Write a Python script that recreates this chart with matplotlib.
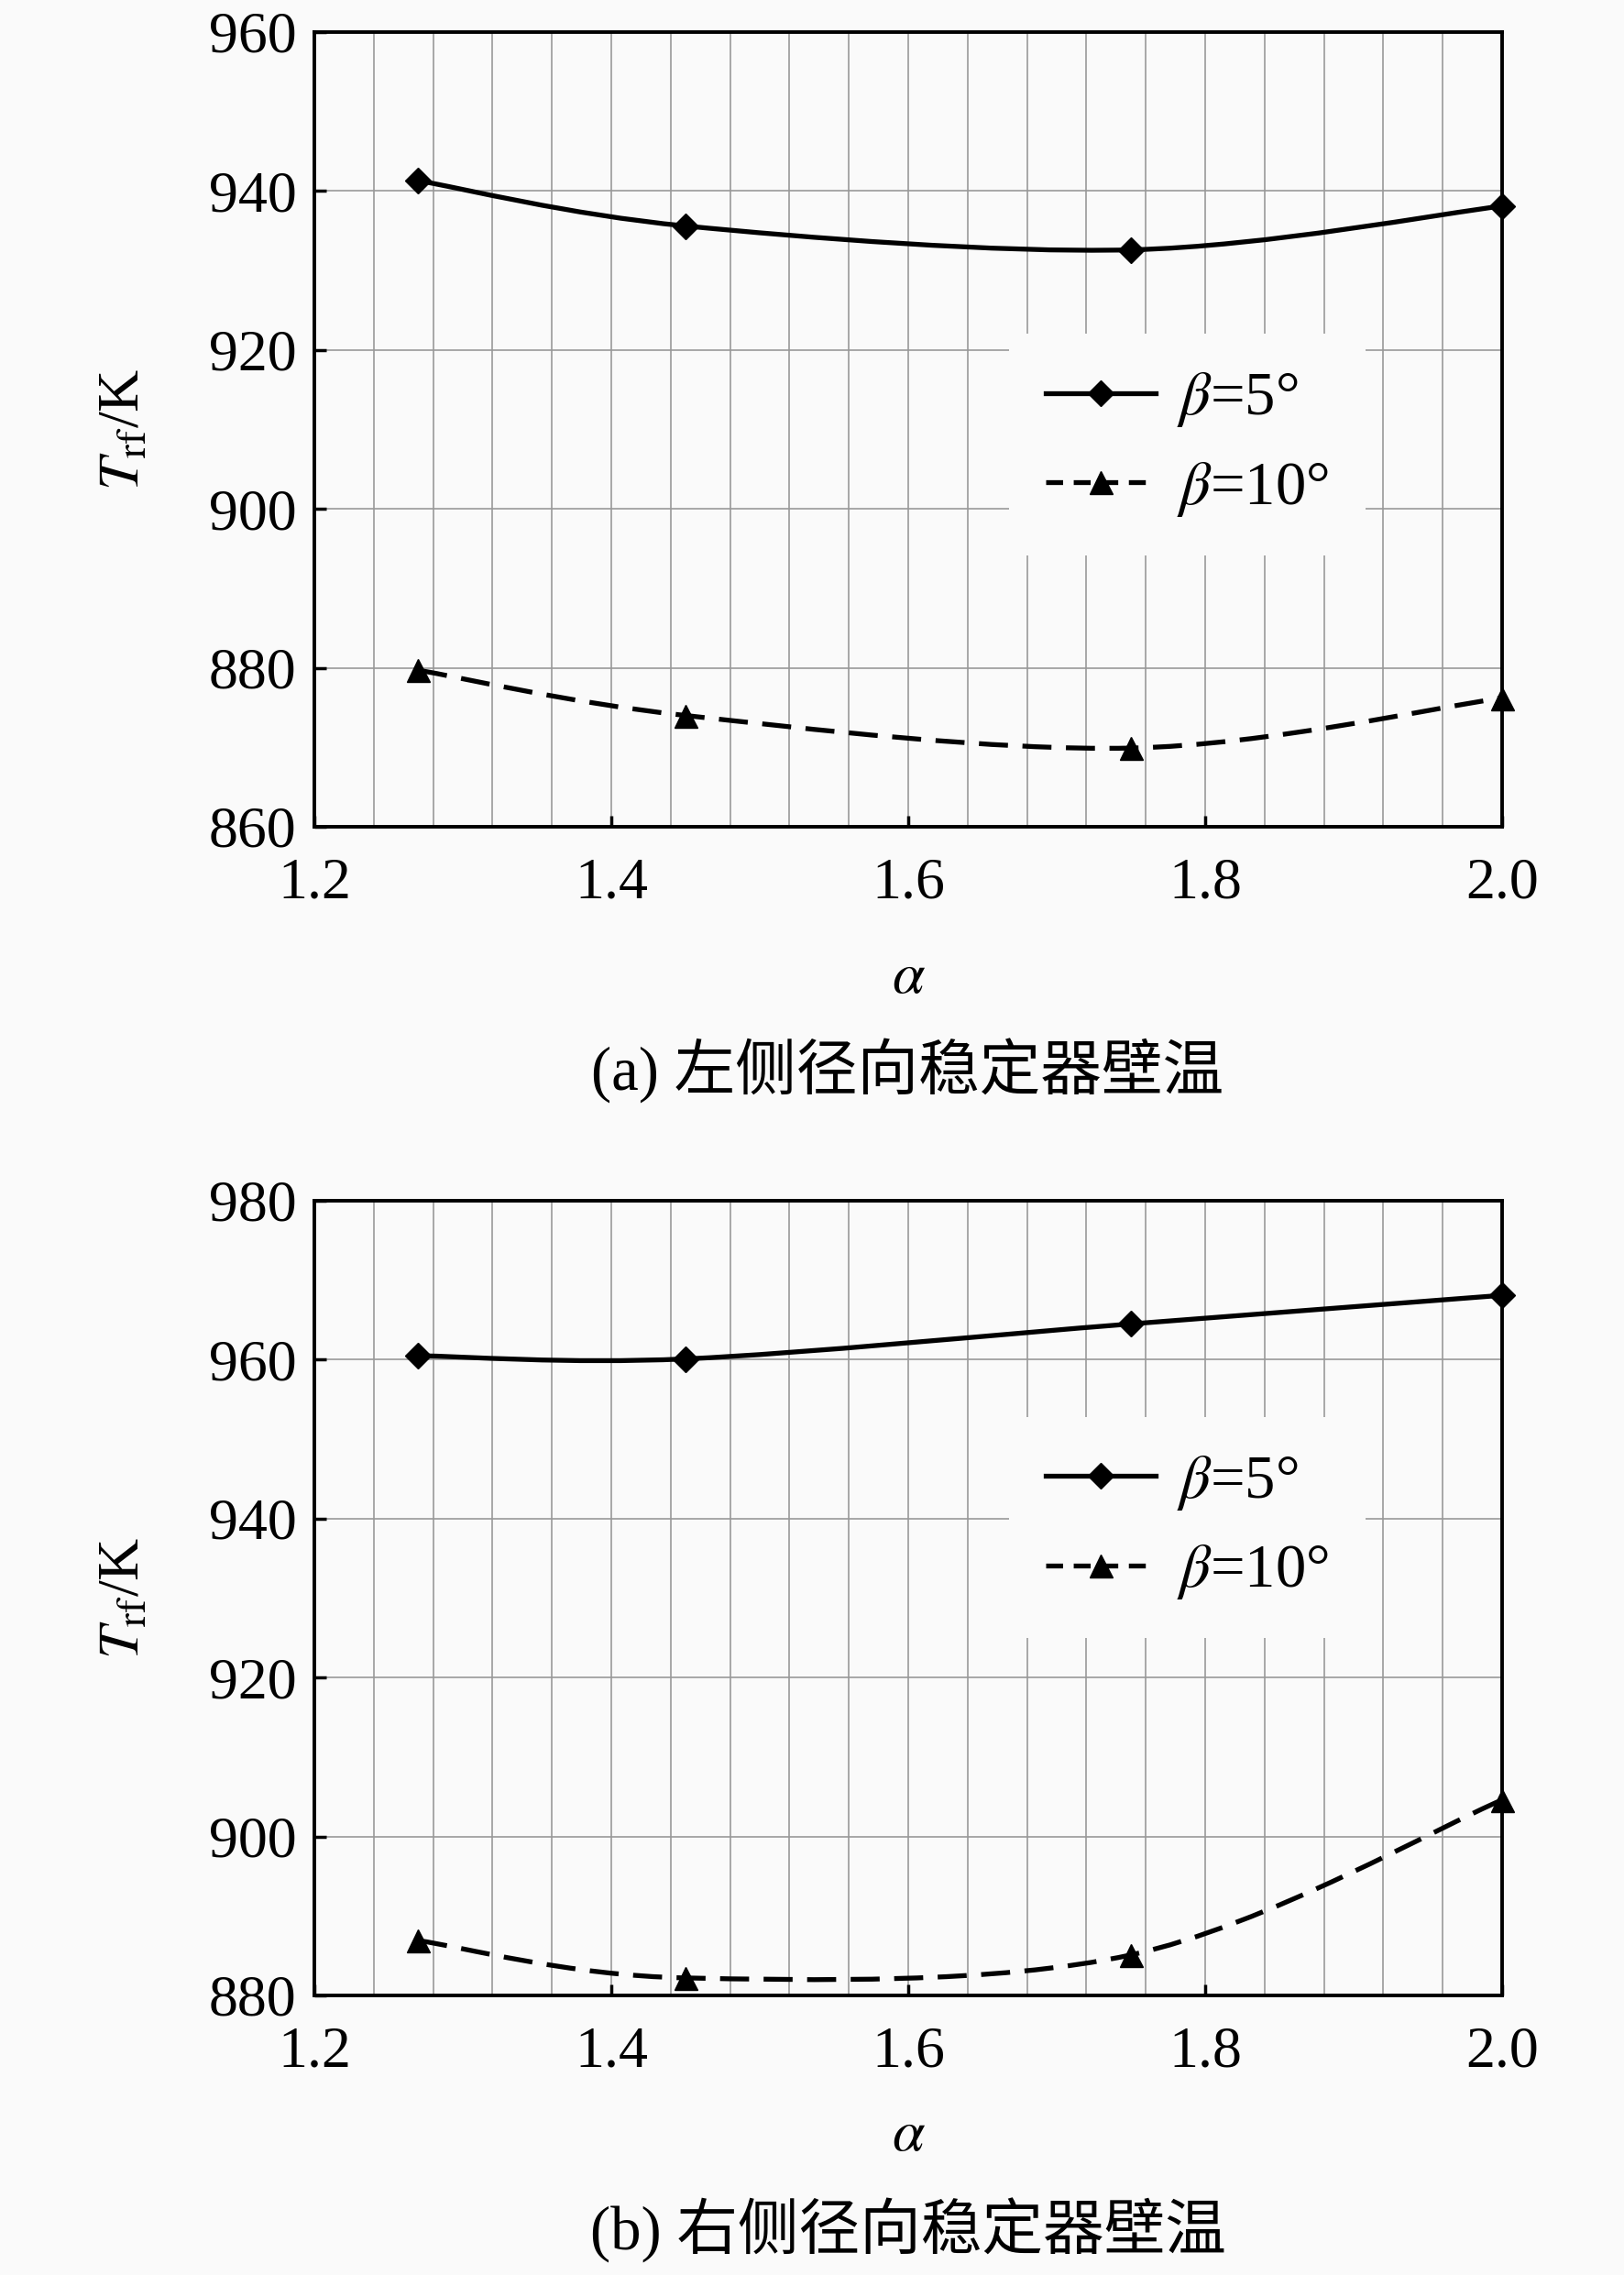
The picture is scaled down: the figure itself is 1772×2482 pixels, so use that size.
import numpy as np
import matplotlib
matplotlib.use('Agg')
import matplotlib.pyplot as plt
from matplotlib.path import Path
from matplotlib.patches import PathPatch
from matplotlib.lines import Line2D

plt.rcParams['font.family'] = ['Liberation Serif', 'Noto Sans CJK SC']
plt.rcParams['mathtext.fontset'] = 'stix'

# data
alpha = [1.27, 1.45, 1.75, 2.0]
left_b5 = [941.3, 935.6, 932.6, 938.1]
left_b10 = [879.7, 874.0, 869.9, 876.2]
right_b5 = [960.5, 960.1, 964.5, 968.1]
right_b10 = [886.9, 882.2, 885.1, 904.6]

x_ticks = [1.2, 1.4, 1.6, 1.8, 2.0]
x_tick_labels = ['1.2', '1.4', '1.6', '1.8', '2.0']
left_yticks = [860, 880, 900, 920, 940, 960]
right_yticks = [880, 900, 920, 940, 960, 980]
captions = ['(a) 左侧径向稳定器壁温', '(b) 右侧径向稳定器壁温']

BG = '#fafafa'
FS = 46
LW = 3.8
DASH = (0, (6.0, 3.0))


def smooth_path(xs, ys):
    # excel-like smoothed line: cubic bezier through the points
    p = np.column_stack([xs, ys])
    n = len(p)
    verts = [p[0]]
    codes = [Path.MOVETO]
    for i in range(n - 1):
        p0 = p[i - 1] if i > 0 else p[i]
        p3 = p[i + 2] if i + 2 < n else p[i + 1]
        c1 = p[i] + (p[i + 1] - p0) / 6.0
        c2 = p[i + 1] - (p3 - p[i]) / 6.0
        verts += [c1, c2, p[i + 1]]
        codes += [Path.CURVE4] * 3
    return Path(verts, codes)


def panel(ax, b5, b10, yticks, leg_pos, xlab_y):
    ax.set_facecolor(BG)
    ax.set_xlim(1.2, 2.0)
    ax.set_ylim(yticks[0], yticks[-1])
    ax.set_xticks(x_ticks)
    ax.set_xticklabels(x_tick_labels)
    ax.set_xticks(np.arange(1.2, 2.0001, 0.04), minor=True)
    ax.set_yticks(yticks)
    ax.grid(True, which='major', color='#999999', lw=1.2)
    ax.grid(True, which='minor', axis='x', color='#999999', lw=1.2)
    ax.tick_params(which='major', direction='in', length=9, width=2.5,
                   labelsize=FS, pad=24)
    ax.tick_params(which='minor', length=0)
    ax.tick_params(axis='y', pad=14)
    for s in ax.spines.values():
        s.set_linewidth(2.8)
        s.set_zorder(5)

    ax.add_patch(PathPatch(smooth_path(alpha, b5), fill=False, color='k',
                           lw=LW, zorder=3))
    ax.add_patch(PathPatch(smooth_path(alpha, b10), fill=False, color='k',
                           lw=LW, linestyle=DASH, zorder=3))
    ax.plot(alpha, b5, ls='none', marker='D', ms=14, color='k', zorder=4,
            clip_on=False)
    ax.plot(alpha, b10, ls='none', marker='^', ms=18, color='k', zorder=4,
            clip_on=False)

    handles = [
        Line2D([], [], color='k', lw=LW, marker='D', ms=14),
        Line2D([], [], color='k', lw=LW, ls=(0, (3.5, 2.2)), marker='^', ms=18),
    ]
    leg = ax.legend(handles, [r'$\beta$=5°', r'$\beta$=10°'], loc='center',
                    bbox_to_anchor=leg_pos, fontsize=FS + 2, frameon=True,
                    framealpha=1.0, facecolor=BG, edgecolor='none',
                    handlelength=1.8, handletextpad=0.35, labelspacing=0.5,
                    borderpad=0.6, numpoints=1, fancybox=False)
    leg.set_zorder(6)

    ax.set_xlabel(r'$\alpha$', fontsize=FS)
    ax.xaxis.set_label_coords(0.5, xlab_y)
    ax.set_ylabel(r'$T_{\rm rf}$/K', fontsize=FS)
    ax.yaxis.set_label_coords(-0.137, 0.5)


fig = plt.figure(figsize=(17.72, 24.82), dpi=100, facecolor=BG)
ax1 = fig.add_axes([0.1936, 0.6366, 0.7314, 0.3493])
ax2 = fig.add_axes([0.1936, 0.1229, 0.7314, 0.3493])

panel(ax1, left_b5, left_b10, left_yticks, (0.735, 0.481), -0.158)
panel(ax2, right_b5, right_b10, right_yticks, (0.735, 0.589), -0.144)

fig.text(0.559, 0.5294, captions[0], ha='center', va='center', fontsize=48)
fig.text(0.559, 0.0197, captions[1], ha='center', va='center', fontsize=48)

fig.savefig('out.png', dpi=100, facecolor=BG)
